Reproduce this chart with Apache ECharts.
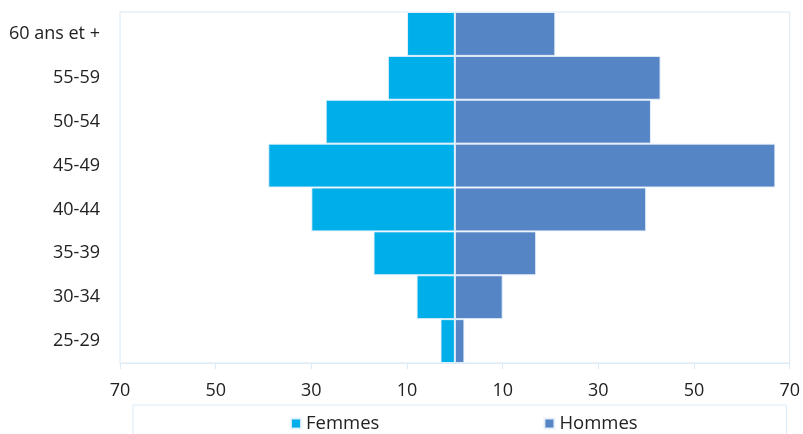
<!DOCTYPE html>
<html>
<head>
<meta charset="utf-8">
<title>Pyramide des âges</title>
<script src="https://cdn.jsdelivr.net/npm/echarts@6/dist/echarts.min.js"></script>
<style>
  html, body { margin: 0; padding: 0; background: #fff; }
  #chart { width: 803px; height: 434px; }
</style>
</head>
<body>
<div id="chart"></div>
<script>
// Age groups, top to bottom
const ageGroups = ['60 ans et +', '55-59', '50-54', '45-49', '40-44', '35-39', '30-34', '25-29'];
// Headcount per age group
const femmes = [10, 14, 27, 39, 30, 17, 8, 3];
const hommes = [21, 43, 41, 67, 40, 17, 10, 2];
// Tick positions on the horizontal axis (shown as absolute values)
const xTicks = [-70, -50, -30, -10, 10, 30, 50, 70];

const FONT = '"Open Sans", "Noto Sans", sans-serif';
const TEXT = '#222222';
const FRAME = '#daeaf7';

const chart = echarts.init(document.getElementById('chart'), null, { renderer: 'canvas' });

chart.setOption({
  animation: false,
  textStyle: { fontFamily: FONT },
  grid: {
    left: 120, right: 12, top: 12, bottom: 71,
    show: true, borderColor: FRAME, borderWidth: 1, backgroundColor: 'transparent'
  },
  legend: {
    data: ['Femmes', 'Hommes'],
    left: 133, top: 405,
    padding: [9, 149, 14, 157],
    itemGap: 164,
    itemWidth: 10, itemHeight: 10,
    icon: 'rect',
    borderColor: FRAME, borderWidth: 1,
    textStyle: { fontFamily: FONT, fontSize: 18.5, color: TEXT }
  },
  xAxis: {
    type: 'value',
    min: -70, max: 70,
    splitLine: { show: false },
    axisLine: { show: true, lineStyle: { color: FRAME } },
    axisTick: { show: true, length: 6, lineStyle: { color: FRAME }, customValues: xTicks },
    axisLabel: {
      customValues: xTicks,
      margin: 19,
      fontFamily: FONT, fontSize: 18, color: TEXT,
      formatter: v => String(Math.abs(v))
    }
  },
  yAxis: {
    type: 'category',
    data: ageGroups,
    inverse: true,
    axisLine: { show: false },
    axisTick: { show: false },
    axisLabel: { margin: 20, fontFamily: FONT, fontSize: 18, color: TEXT }
  },
  series: [
    {
      name: 'Femmes',
      type: 'bar',
      stack: 'pyramide',
      barCategoryGap: '0%',
      data: femmes.map(v => -v),
      itemStyle: { color: '#00AEEA', borderColor: 'rgba(235,243,252,0.9)', borderWidth: 1 }
    },
    {
      name: 'Hommes',
      type: 'bar',
      stack: 'pyramide',
      barCategoryGap: '0%',
      data: hommes,
      itemStyle: { color: '#5685C6', borderColor: 'rgba(235,243,252,0.9)', borderWidth: 1 }
    }
  ]
});
</script>
</body>
</html>
